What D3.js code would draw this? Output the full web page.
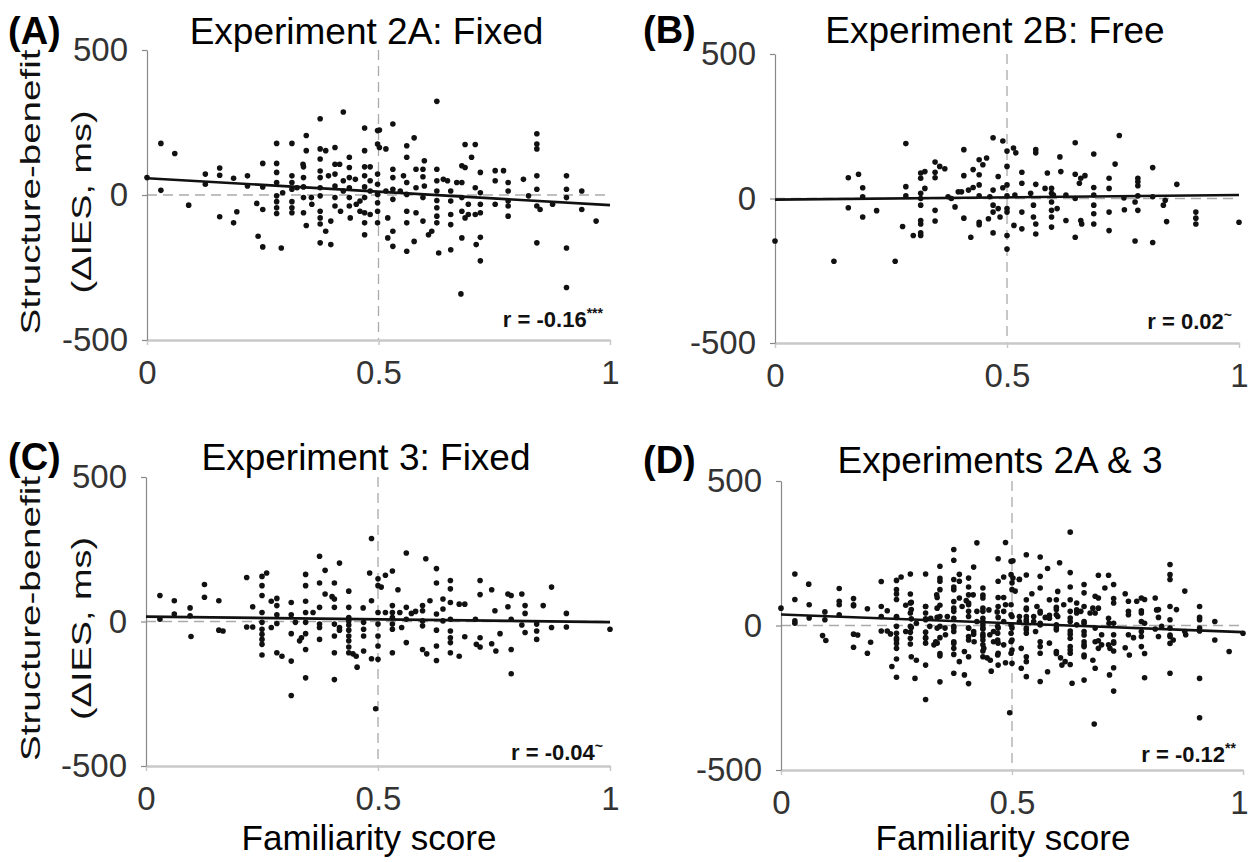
<!DOCTYPE html>
<html>
<head>
<meta charset="utf-8">
<script src="https://cdn.jsdelivr.net/npm/d3@7"></script>
<style>
  body { margin: 0; background: #fff; }
  svg { display: block; font-family: "Liberation Sans", Arial, Helvetica, sans-serif; }
</style>
</head>
<body>
<div id="chart"></div>
<script>
// ---- data: [familiarity score, structure-benefit (ms)] ----
const exp2A = [
  [0.00,60],[0.03,178],[0.03,16],[0.06,143],[0.09,-35],[0.126,72],[0.126,37],[0.157,93],[0.157,68],[0.157,-75],
  [0.187,58],[0.187,-96],[0.194,-58],[0.217,66],[0.217,31],[0.237,-29],[0.24,-142],[0.25,109],[0.25,28],[0.25,-50],[0.25,-179],
  [0.28,178],[0.28,109],[0.28,78],[0.28,43],[0.28,-3],[0.28,-23],[0.28,-44],[0.28,-64],[0.29,-183],[0.293,8],
  [0.313,178],[0.313,66],[0.313,43],[0.313,20],[0.313,-23],[0.313,-44],[0.313,-61],[0.324,25],
  [0.337,106],[0.338,97],[0.338,60],[0.338,28],[0.338,-9],[0.338,-61],[0.344,-105],[0.344,205],[0.344,153],[0.355,-9],[0.356,-32],
  [0.374,263],[0.374,159],[0.374,124],[0.374,83],[0.374,60],[0.374,25],[0.374,-3],[0.374,-56],[0.374,-79],[0.374,-100],[0.374,-165],
  [0.386,153],[0.386,-125],[0.392,66],[0.397,-90],[0.397,-171],
  [0.406,164],[0.406,106],[0.406,72],[0.406,31],[0.406,-9],[0.406,-38],[0.416,106],[0.418,-56],
  [0.424,286],[0.424,49],[0.424,14],
  [0.437,130],[0.437,95],[0.437,60],[0.437,25],[0.437,-9],[0.437,-38],[0.439,-79],[0.45,54],[0.452,-32],[0.46,-21],[0.46,-56],
  [0.47,231],[0.47,153],[0.47,97],[0.47,66],[0.47,28],[0.47,-9],[0.47,-61],[0.47,-96],[0.47,-137],
  [0.482,97],[0.482,49],[0.482,14],[0.482,-67],
  [0.498,222],[0.498,176],[0.498,72],[0.498,37],[0.498,2],[0.498,-27],[0.498,-56],[0.498,-96],[0.502,224],[0.502,164],
  [0.516,159],[0.516,14],[0.52,-79],[0.52,-148],
  [0.531,245],[0.531,89],[0.531,60],[0.531,20],[0.531,-15],[0.531,-125],[0.531,-177],
  [0.547,14],[0.554,66],
  [0.561,170],[0.561,130],[0.561,43],[0.561,2],[0.561,-56],[0.561,-96],[0.561,-194],
  [0.577,197],[0.577,-160],[0.581,89],[0.581,25],[0.581,-61],
  [0.596,89],[0.596,63],[0.596,-9],[0.596,-90],[0.599,118],[0.599,31],[0.608,-137],[0.615,-125],
  [0.626,323],[0.626,89],[0.626,49],[0.626,14],[0.626,-19],[0.626,-44],[0.626,-73],[0.626,-96],[0.63,-200],
  [0.64,54],[0.649,49],
  [0.656,14],[0.656,-21],[0.656,-67],[0.656,-102],[0.656,-189],[0.669,43],
  [0.68,101],[0.68,43],[0.68,-9],[0.68,-56],[0.68,-148],[0.678,-341],
  [0.687,174],[0.687,95],[0.687,-79],[0.694,-32],[0.694,-67],
  [0.701,130],[0.709,174],[0.709,25],[0.709,-67],[0.711,-171],
  [0.72,78],[0.72,8],[0.72,-32],[0.72,-61],[0.72,-146],[0.72,-227],
  [0.752,84],[0.752,49],[0.752,-32],[0.77,84],
  [0.78,43],[0.78,14],[0.78,-21],[0.78,-38],[0.78,-73],
  [0.813,54],[0.824,-3],
  [0.842,211],[0.842,176],[0.842,159],[0.842,66],[0.842,20],[0.842,-38],[0.842,-165],[0.849,-50],
  [0.876,-32],
  [0.906,66],[0.906,20],[0.906,-9],[0.906,-183],[0.906,-319],
  [0.939,14],[0.939,-50],[0.97,-90]
];

const exp2B = [
  [0,-147],[0.127,-217],[0.158,72],[0.158,-32],[0.18,84],[0.189,37],[0.189,6],[0.189,-64],[0.219,-42],[0.259,-217],
  [0.275,-97],[0.282,190],[0.282,41],[0.282,9],[0.298,-128],
  [0.314,88],[0.314,70],[0.314,18],[0.314,0],[0.314,-23],[0.314,-76],[0.314,-88],[0.314,-119],[0.314,-128],[0.323,93],[0.323,35],
  [0.345,126],[0.345,91],[0.345,72],[0.345,-41],[0.345,-78],[0.355,111],[0.366,103],
  [0.373,6],[0.38,0],[0.388,-29],[0.395,23],[0.402,23],
  [0.407,169],[0.407,79],[0.407,-68],[0.417,29],[0.422,-134],[0.427,100],[0.427,38],
  [0.44,134],[0.44,82],[0.44,47],[0.44,9],[0.44,-82],[0.44,-91],[0.448,117],[0.456,140],[0.46,-70],[0.463,6],
  [0.47,210],[0.47,29],[0.47,-23],[0.47,-47],[0.47,-119],[0.481,76],[0.481,-35],[0.485,-64],[0.491,199],[0.491,37],
  [0.5,164],[0.5,111],[0.5,47],[0.5,9],[0.5,-35],[0.5,-47],[0.5,-128],[0.5,-175],
  [0.514,175],[0.519,158],[0.517,12],[0.515,-93],
  [0.532,91],[0.532,53],[0.532,-47],[0.532,-105],
  [0.551,18],[0.557,-23],[0.557,-64],
  [0.562,169],[0.562,158],[0.562,49],[0.562,-88],[0.562,-123],
  [0.582,35],[0.587,88],
  [0.596,35],[0.596,18],[0.596,-12],[0.596,-41],[0.596,-64],[0.596,-99],[0.6,12],[0.608,-35],
  [0.614,144],[0.616,93],[0.627,12],[0.627,-76],
  [0.647,193],[0.647,0],[0.647,-134],[0.647,84],[0.656,53],[0.659,70],[0.659,-76],[0.661,-88],[0.668,79],
  [0.687,38],[0.687,154],[0.687,12],[0.687,-23],[0.687,-53],[0.687,-88],
  [0.72,70],[0.72,35],[0.72,-47],[0.72,-111],
  [0.733,119],[0.742,218],[0.752,2],[0.753,-39],
  [0.776,-12],[0.776,-147],[0.782,70],[0.782,58],[0.782,44],[0.782,9],[0.782,-41],
  [0.814,107],[0.814,6],[0.814,-152],[0.837,-23],[0.841,-6],[0.844,-80],[0.866,49],
  [0.907,-47],[0.907,-68],[0.907,-88],[1.0,-82]
];

const exp3 = [
  [0.03,90],[0.03,8],[0.061,72],[0.061,26],[0.095,47],[0.095,20],[0.097,-52],[0.126,128],[0.126,84],[0.157,72],[0.157,-30],[0.166,-33],
  [0.217,152],[0.217,-19],[0.23,-19],[0.23,51],
  [0.25,156],[0.25,124],[0.25,90],[0.25,31],[0.25,-3],[0.25,-27],[0.25,-44],[0.25,-62],[0.25,-79],[0.25,-116],[0.26,168],
  [0.27,70],[0.27,-21],[0.282,80],[0.282,55],[0.282,23],[0.282,-7],[0.282,-108],[0.293,-120],
  [0.313,66],[0.313,23],[0.313,-42],[0.313,-137],[0.313,-256],[0.322,-3],[0.331,-67],[0.335,-56],
  [0.344,163],[0.344,124],[0.344,70],[0.344,31],[0.344,-3],[0.344,-42],[0.344,-97],[0.344,-195],[0.36,31],
  [0.374,226],[0.374,133],[0.374,49],[0.374,-9],[0.374,-21],[0.374,-62],[0.386,177],[0.386,95],
  [0.401,86],[0.406,133],[0.406,78],[0.406,49],[0.406,-9],[0.406,-50],[0.406,-108],[0.406,-201],
  [0.417,202],[0.417,-21],[0.417,-30],
  [0.437,105],[0.437,49],[0.437,14],[0.437,2],[0.437,-12],[0.437,-30],[0.437,-50],[0.437,-67],[0.437,-88],[0.437,-108],
  [0.446,-112],[0.453,-120],[0.455,-158],
  [0.468,47],[0.469,-3],[0.469,-27],[0.469,-50],[0.469,-102],
  [0.482,168],[0.486,287],[0.486,72],[0.486,-129],[0.495,-302],
  [0.5,148],[0.5,124],[0.5,31],[0.5,-9],[0.5,-50],[0.5,-85],[0.5,-131],[0.507,119],
  [0.516,160],[0.516,31],
  [0.531,175],[0.531,55],[0.531,31],[0.531,14],[0.531,-9],[0.531,-27],[0.531,-108],
  [0.543,110],[0.547,31],[0.551,-21],
  [0.561,237],[0.561,49],[0.561,8],[0.561,-73],[0.572,28],[0.581,35],
  [0.596,55],[0.596,37],[0.596,2],[0.596,-15],[0.596,-97],[0.603,217],[0.605,-112],[0.612,72],
  [0.626,183],[0.626,133],[0.626,26],[0.626,-30],[0.626,-85],[0.626,-135],
  [0.64,78],[0.64,43],[0.64,2],
  [0.656,142],[0.656,113],[0.656,66],[0.656,8],[0.656,-33],[0.656,-56],[0.656,-73],[0.656,-108],
  [0.675,60],[0.675,-120],[0.687,60],[0.687,-53],
  [0.71,8],[0.712,-79],[0.72,142],[0.72,93],[0.72,-56],[0.72,-88],
  [0.745,110],[0.745,-77],[0.754,-102],[0.752,37],[0.763,-42],
  [0.78,95],[0.78,51],[0.787,90],[0.787,8],[0.787,-97],[0.787,-181],
  [0.81,95],[0.81,-12],[0.817,55],[0.817,28],[0.817,-38],
  [0.842,-9],[0.842,-33],[0.842,-62],[0.856,55],[0.874,119],[0.874,-21],
  [0.906,28],[0.906,-19],[1.0,-27]
];

// panel D pools experiments 2A and 3
const exp2A3 = exp2A.concat(exp3);

// regression line end points
const fit2A = [[0, 58], [1, -35]];
const fit2B = [[0, -4], [1, 12]];
const fit3 = [[0, 17], [1, -2]];
const fit2A3 = [[0, 38], [1, -23]];

const panelTags = ['(A)', '(B)', '(C)', '(D)'];
const panelTitles = ['Experiment 2A: Fixed', 'Experiment 2B: Free', 'Experiment 3: Fixed', 'Experiments 2A & 3'];
const rValues = ['r = -0.16', 'r = 0.02', 'r = -0.04', 'r = -0.12'];
const rStars = ['***', '~', '~', '**'];
const xTicks = [0, 0.5, 1];
const yTicks = [-500, 0, 500];
const yLabelLines = ['Structure-benefit', '(\u0394IES, ms)'];
const xLabel = 'Familiarity score';

// ---- layout ----
const width = 1250, height = 862;
const font = '"Liberation Sans", Arial, Helvetica, sans-serif';

const panels = [
  { data: exp2A, fit: fit2A, left: 147, right: 610, top: 50, bottom: 340, titleY: 44, rOff: 13, yLabel: true, xLabel: false, tagX: 8 },
  { data: exp2B, fit: fit2B, left: 775, right: 1239, top: 54, bottom: 343, titleY: 43, rOff: 14, yLabel: false, xLabel: false, tagX: 643 },
  { data: exp3, fit: fit3, left: 146, right: 610, top: 477, bottom: 766, titleY: 470, rOff: 6, yLabel: true, xLabel: true, tagX: 8 },
  { data: exp2A3, fit: fit2A3, left: 781, right: 1243, top: 481, bottom: 770, titleY: 473, rOff: 8, yLabel: false, xLabel: true, tagX: 643 }
];

const svg = d3.select('#chart').append('svg')
  .attr('width', width)
  .attr('height', height);

svg.append('rect').attr('width', width).attr('height', height).attr('fill', '#fff');

panels.forEach((p, i) => {
  const g = svg.append('g');

  const x = d3.scaleLinear().domain([0, 1]).range([p.left, p.right]);
  const y = d3.scaleLinear().domain([-500, 500]).range([p.bottom, p.top]);
  const midX = (p.left + p.right) / 2;
  const midY = (p.top + p.bottom) / 2;

  // reference lines
  g.append('line')
    .attr('x1', x(0)).attr('x2', x(1))
    .attr('y1', y(0)).attr('y2', y(0))
    .attr('stroke', '#aaa').attr('stroke-width', 1.3)
    .attr('stroke-dasharray', '10,6');
  g.append('line')
    .attr('x1', x(0.5)).attr('x2', x(0.5))
    .attr('y1', y(500)).attr('y2', y(-500))
    .attr('stroke', '#aaa').attr('stroke-width', 1.3)
    .attr('stroke-dasharray', '10,6');

  // x axis
  const xAxis = g.append('g')
    .attr('transform', `translate(0,${p.bottom})`)
    .call(d3.axisBottom(x).tickValues(xTicks).tickSize(5).tickSizeOuter(0).tickPadding(16).tickFormat(d => String(d)));
  xAxis.select('.domain').attr('stroke', '#c8c8c8').attr('stroke-width', 2.5);
  xAxis.selectAll('.tick line').attr('stroke', '#c8c8c8').attr('stroke-width', 1.5);
  xAxis.selectAll('.tick text')
    .attr('font-family', font).attr('font-size', 33).attr('fill', '#333')
    .attr('dx', d => (x(d) + 10 > width ? -4 : 0));

  // y axis
  const yAxis = g.append('g')
    .attr('transform', `translate(${p.left},0)`)
    .call(d3.axisLeft(y).tickValues(yTicks).tickSize(5).tickSizeOuter(0).tickPadding(14).tickFormat(d => String(d)));
  yAxis.select('.domain').attr('stroke', '#888').attr('stroke-width', 1.2);
  yAxis.selectAll('.tick line').attr('stroke', '#888').attr('stroke-width', 1.2);
  yAxis.selectAll('.tick text')
    .attr('font-family', font).attr('font-size', 33).attr('fill', '#333');

  // points
  g.append('g').selectAll('circle')
    .data(p.data)
    .join('circle')
      .attr('cx', d => x(d[0]))
      .attr('cy', d => y(d[1]))
      .attr('r', 2.8)
      .attr('fill', '#111');

  // regression line
  g.append('line')
    .attr('x1', x(p.fit[0][0])).attr('y1', y(p.fit[0][1]))
    .attr('x2', x(p.fit[1][0])).attr('y2', y(p.fit[1][1]))
    .attr('stroke', '#111').attr('stroke-width', 2.6);

  // correlation label
  const rText = g.append('text')
    .attr('x', p.right - 7)
    .attr('y', p.bottom - p.rOff)
    .attr('text-anchor', 'end')
    .attr('font-family', font)
    .attr('font-weight', 'bold')
    .attr('font-size', 22)
    .attr('fill', '#111');
  rText.append('tspan').text(rValues[i]);
  rText.append('tspan')
    .attr('font-size', 14)
    .attr('dy', -9)
    .text(rStars[i]);

  // panel tag and title
  g.append('text')
    .attr('x', p.tagX).attr('y', p.titleY)
    .attr('font-family', font).attr('font-weight', 'bold').attr('font-size', 38)
    .attr('fill', '#000')
    .text(panelTags[i]);
  g.append('text')
    .attr('x', midX - 12).attr('y', p.titleY)
    .attr('text-anchor', 'middle')
    .attr('font-family', font).attr('font-size', 37)
    .attr('fill', '#000')
    .text(panelTitles[i]);

  // y label (stretched lengthwise, as in the original)
  if (p.yLabel) {
    g.append('text')
      .attr('transform', `translate(40,${midY - 3}) rotate(-90)`)
      .attr('text-anchor', 'middle')
      .attr('font-family', font).attr('font-size', 28)
      .attr('textLength', 285).attr('lengthAdjust', 'spacingAndGlyphs')
      .attr('fill', '#111')
      .text(yLabelLines[0]);
    g.append('text')
      .attr('transform', `translate(91,${midY + 7}) rotate(-90)`)
      .attr('text-anchor', 'middle')
      .attr('font-family', font).attr('font-size', 28)
      .attr('textLength', 183).attr('lengthAdjust', 'spacingAndGlyphs')
      .attr('fill', '#111')
      .text(yLabelLines[1]);
  }

  if (p.xLabel) {
    g.append('text')
      .attr('x', midX - 9)
      .attr('y', 850)
      .attr('text-anchor', 'middle')
      .attr('font-family', font).attr('font-size', 35)
      .attr('fill', '#000')
      .text(xLabel);
  }
});
</script>
</body>
</html>
